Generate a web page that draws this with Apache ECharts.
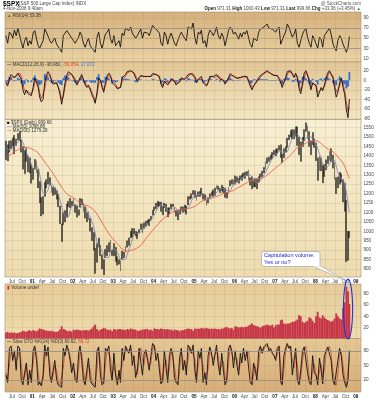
<!DOCTYPE html>
<html><head><meta charset="utf-8">
<script src="https://cdn.jsdelivr.net/npm/echarts@6/dist/echarts.min.js"></script>
<style>html,body{margin:0;padding:0;background:#fff;}#c{width:377px;height:400px;}</style>
</head><body><div id="c"></div>
<script>
// ---- semi-monthly samples: May-2000 (1st half) ... Oct-2008 (2nd half), then 4-Nov-2008 ----
const priceHigh = [
1480,1460,1480,1482,1495,1510,1490,1520,1530,1485,1450,1430,1440,1400,1390,1350,
1335,1383,1375,1330,1265,1180,1185,1260,1275,1315,1285,1245,1235,1230,1215,1195,1135,1040,1100,1110,1145,1160,1175,1160,
1175,1140,1135,1115,1175,1172,1150,1130,1100,1105,1070,1020,995,910,935,965,925,875,850,905,925,940,955,900,
935,915,865,850,845,895,890,920,950,965,1000,1015,1015,1000,995,1010,1040,1040,1045,1055,1060,1065,1080,1112,
1130,1150,1160,1155,1155,1130,1150,1145,1125,1125,1145,1145,1130,1110,1110,1110,1130,1130,1140,1135,1185,1185,1200,1217,
1215,1190,1210,1212,1230,1200,1195,1165,1180,1200,1210,1220,1230,1245,1240,1230,1245,1235,1230,1205,1235,1270,1275,1275,
1295,1290,1280,1295,1300,1310,1315,1318,1326,1285,1290,1275,1280,1280,1290,1305,1320,1340,1370,1390,1395,1405,1420,1430,
1435,1440,1455,1460,1410,1440,1450,1495,1512,1535,1540,1540,1555,1555,1500,1475,1500,1540,1576,1560,1530,1480,1525,1490,
1470,1390,1400,1390,1350,1355,1380,1400,1425,1440,1405,1365,1285,1290,1313,1305,1275,1255,1165,1000,1000];
const priceLow = [
1380,1373,1420,1440,1450,1410,1455,1485,1480,1420,1330,1305,1370,1315,1310,1255,
1275,1330,1310,1230,1150,1081,1091,1185,1230,1250,1245,1205,1190,1195,1170,1130,1040,945,1035,1050,1075,1130,1125,1135,
1135,1100,1075,1085,1130,1140,1105,1070,1050,1060,1000,950,900,776,835,915,870,800,769,860,870,890,890,870,
870,840,820,825,789,850,860,890,915,925,965,970,985,975,960,990,1010,990,1015,1025,1040,1030,1060,1085,
1110,1120,1130,1135,1105,1087,1125,1105,1076,1090,1120,1130,1100,1080,1060,1090,1110,1100,1105,1090,1140,1170,1175,1195,
1180,1163,1185,1185,1195,1170,1165,1137,1150,1180,1190,1185,1190,1225,1220,1205,1215,1205,1180,1176,1200,1240,1250,1245,
1250,1260,1255,1275,1270,1290,1280,1295,1270,1245,1224,1235,1235,1225,1260,1285,1290,1310,1330,1360,1370,1380,1390,1405,
1400,1415,1430,1390,1364,1390,1420,1445,1485,1500,1490,1490,1505,1455,1406,1370,1450,1480,1530,1490,1450,1406,1460,1445,
1375,1270,1320,1320,1257,1290,1325,1360,1375,1370,1335,1275,1200,1230,1250,1260,1155,1106,839,845,966];
const rsi = [
55,40,62,58,50,66,55,70,68,42,30,45,52,35,45,38,
60,65,48,35,30,28,45,68,62,65,45,40,42,50,38,35,28,22,55,58,65,62,55,50,
45,40,38,52,62,55,40,32,42,50,35,30,28,22,52,62,40,30,28,58,62,68,48,40,
55,35,40,45,32,60,55,70,68,65,72,60,62,50,55,62,68,50,62,65,60,55,65,75,
78,68,65,60,40,35,62,55,38,52,60,58,40,35,32,55,62,55,52,45,72,70,68,80,
52,38,62,58,66,40,45,32,55,66,62,55,62,72,55,48,60,52,35,38,65,72,68,58,
62,55,48,60,52,62,58,65,66,38,32,50,48,45,62,68,65,72,75,78,70,72,68,66,
62,68,72,38,35,55,62,78,72,74,52,58,68,40,32,45,58,65,70,52,40,32,55,48,
45,30,52,48,32,55,60,65,70,58,40,30,25,45,55,50,38,40,22,32,53.38];
const macd = [
-5,-12,5,12,10,5,3,15,18,2,-20,-30,-20,-28,-25,-32,
-15,5,5,-15,-35,-45,-40,-5,10,18,12,-2,-8,-8,-5,-15,-30,-50,-30,-5,10,18,16,12,
8,-2,-10,-8,5,12,2,-10,-15,-10,-20,-30,-38,-48,-25,5,0,-15,-25,-5,10,15,10,-5,
-3,-12,-18,-15,-15,5,5,12,18,20,20,18,15,5,-2,5,10,8,8,10,8,6,8,14,
15,12,10,8,-8,-15,-2,2,-10,-8,2,6,-2,-10,-12,-2,5,4,2,-2,12,15,14,15,
5,-5,2,5,8,-5,-8,-12,-5,8,10,8,5,12,10,2,4,0,-8,-10,5,14,14,8,
8,4,2,6,6,8,6,8,6,-12,-20,-12,-6,-8,5,10,12,15,18,20,16,14,12,10,
8,10,12,-5,-15,-5,5,18,22,20,12,6,15,5,-18,-28,-5,15,20,12,-5,-20,-5,-6,
-12,-35,-25,-15,-22,-10,5,15,20,18,5,-15,-35,-25,-5,5,-15,-30,-62,-78,-38.982];
const macdSignal = [
-3,-8,-2,6,9,7,4,10,15,8,-8,-22,-22,-24,-25,-28,
-20,-5,2,-8,-25,-38,-40,-18,2,12,14,4,-4,-7,-6,-10,-22,-40,-35,-15,2,12,15,13,
10,3,-6,-8,0,8,6,-4,-12,-11,-16,-25,-33,-43,-32,-8,0,-10,-20,-12,3,11,11,2,
0,-8,-15,-15,-15,-3,3,9,15,18,19,18,16,9,2,3,8,8,8,9,8,7,8,11,
13,12,11,9,-2,-11,-6,-1,-6,-8,-2,3,1,-6,-10,-5,2,3,2,0,7,12,13,14,
9,0,1,3,6,-1,-5,-10,-7,3,8,8,6,9,10,5,4,1,-5,-8,0,9,12,10,
8,5,3,5,6,7,6,7,7,-4,-15,-14,-8,-7,1,7,10,13,16,18,17,15,13,11,
9,9,11,2,-9,-8,1,12,18,20,15,9,12,8,-8,-22,-12,6,16,14,3,-13,-8,-6,
-9,-26,-27,-19,-20,-14,-2,9,17,18,10,-6,-25,-27,-13,1,-8,-22,-45,-65,-56.054];
const macdHist = [
-2,-4,7,6,1,-2,-1,5,3,-6,-12,-8,2,-4,0,-4,
5,10,3,-7,-10,-7,0,13,8,6,-2,-6,-4,-1,1,-5,-8,-10,5,10,8,6,1,-1,
-2,-5,-4,0,5,4,-4,-6,-3,1,-4,-5,-5,-5,7,13,0,-5,-5,7,7,4,-1,-7,
-3,-4,-3,0,0,8,2,3,3,2,1,0,-1,-4,-4,2,2,0,0,1,0,-1,0,3,
2,0,-1,-1,-6,-4,4,3,-4,0,4,3,-3,-4,-2,3,3,1,0,-2,5,3,1,1,
-4,-5,1,2,2,-4,-3,-2,2,5,2,0,-1,3,0,-3,0,-1,-3,-2,5,5,2,-2,
0,-1,-1,1,0,1,0,1,-1,-8,-5,2,2,-1,4,3,2,2,2,2,-1,-1,-1,-1,
-1,1,1,-7,-6,3,4,6,4,0,-3,-3,3,-3,-10,-6,7,9,4,-2,-8,-7,3,0,
-3,-9,2,4,-2,4,7,6,3,0,-5,-9,-10,2,8,4,-7,-8,-17,-13,17.072];
const volume = [
11,12,10,11,10,11,9,10,11,12,14,13,12,14,15,13,
15,14,13,15,18,17,16,15,14,14,13,14,13,12,12,13,16,22,17,16,14,13,14,12,
16,15,16,15,15,14,15,15,15,14,16,18,22,25,17,14,16,17,19,18,16,15,16,13,
17,16,16,17,17,16,16,15,17,16,18,17,16,16,14,14,15,16,16,17,17,15,16,14,
18,17,17,16,18,17,17,16,17,16,16,14,16,15,15,13,15,15,16,17,18,17,17,14,
18,17,18,17,19,18,18,19,18,17,18,17,18,17,17,16,18,18,20,21,19,18,19,16,
22,21,20,20,21,20,21,21,23,25,27,24,23,22,21,19,22,23,24,25,24,23,25,20,
24,25,25,33,34,27,26,27,27,28,30,30,32,34,42,40,30,28,30,32,38,36,32,28,
40,48,38,36,42,38,35,33,32,30,32,36,45,40,36,34,55,65,93,85,62];
const stoK = [
30,15,85,90,60,80,40,90,85,20,10,35,55,10,40,15,
80,90,60,10,15,8,30,92,70,88,30,15,40,60,20,10,8,5,85,70,92,80,60,35,
55,20,15,75,90,60,20,10,40,65,20,12,15,5,80,88,30,10,15,85,80,90,40,20,
75,30,10,40,15,85,60,90,80,75,92,50,70,25,40,85,88,30,75,82,60,40,70,95,
90,60,75,40,12,20,80,45,15,70,85,72,25,15,10,65,85,40,60,30,92,85,75,92,
40,15,80,65,85,15,35,10,70,88,75,50,70,92,50,30,75,40,10,20,85,92,80,45,
80,50,30,75,55,85,60,80,82,15,10,55,40,20,80,90,75,88,92,95,80,85,75,70,
60,85,90,15,10,70,85,95,85,90,30,60,85,20,10,40,80,88,90,35,15,10,70,35,
30,10,65,40,12,70,80,88,90,60,20,10,8,60,85,70,30,15,5,20,80.62];
const stoD = [
35,22,50,80,75,70,60,65,85,50,20,25,45,30,25,25,
50,85,75,35,12,12,20,60,80,80,55,22,30,50,40,15,10,6,45,78,80,85,70,48,
45,35,18,45,80,75,40,15,25,52,40,15,14,10,42,85,60,20,12,50,82,85,65,30,
48,52,20,25,28,50,72,75,85,78,85,70,60,45,32,62,86,60,52,78,70,50,55,82,
92,75,68,58,25,15,50,62,30,42,78,78,48,20,12,38,75,62,50,45,60,88,80,84,
65,28,48,72,75,50,25,22,40,80,82,62,60,82,70,40,52,58,25,15,52,88,86,62,
62,65,40,52,65,70,72,70,80,50,12,32,48,30,50,85,82,82,90,93,88,82,80,72,
65,72,88,52,12,40,78,90,90,88,60,45,72,52,15,25,60,84,89,62,25,12,40,52,
32,20,38,52,26,40,75,84,89,75,40,15,9,34,72,78,50,22,10,12,66.72];
// ---- monthly (mid-month) moving averages: May-2000 ... Oct-2008, then 4-Nov-2008 ----
const ma50 = [
1440,1430,1450,1465,1490,1460,1410,1370,
1335,1340,1280,1200,1210,1255,1240,1210,1150,1090,1075,1120,
1145,1135,1125,1140,1100,1065,1010,930,905,870,860,900,
905,880,850,850,890,940,985,990,1000,1025,1040,1065,
1095,1130,1140,1130,1110,1115,1125,1100,1100,1115,1130,1170,
1195,1195,1200,1190,1170,1180,1200,1220,1228,1220,1215,1240,
1260,1270,1280,1295,1300,1280,1260,1265,1290,1320,1360,1390,
1410,1425,1420,1420,1460,1500,1515,1500,1480,1500,1505,1480,
1450,1400,1350,1340,1365,1380,1330,1280,1265,1180,1098.88];
const ma200 = [
1395,1405,1420,1430,1440,1445,1445,1440,
1432,1420,1400,1375,1350,1325,1300,1270,1240,1215,1195,1185,
1175,1160,1150,1140,1135,1125,1110,1085,1055,1025,995,970,
950,930,910,898,895,900,905,915,930,955,978,1000,
1020,1040,1060,1075,1090,1100,1110,1115,1118,1120,1122,1127,
1135,1150,1160,1168,1173,1178,1183,1190,1198,1205,1210,1215,
1225,1235,1245,1255,1265,1270,1275,1280,1285,1295,1310,1325,
1340,1355,1370,1385,1400,1420,1440,1450,1460,1470,1478,1482,
1480,1470,1455,1440,1430,1420,1400,1380,1355,1310,1279.28];
// ---- axis ticks ----
const rsiTicks = [10,30,50,70,90];
const macdTicks = [-80,-60,-40,-20,0,20];
const priceTicks = [800,850,900,950,1000,1050,1100,1150,1200,1250,1300,1350,1400,1450,1500,1550];
const volTicks = [20,40,60,80];
const stoTicks = [20,50,80];
const monthNames = {3:'Apr',6:'Jul',9:'Oct'};

const lastDate = new Date(2008,10,4).getTime();
const N = priceHigh.length;
function halfDate(k){ return k===N-1 ? lastDate : new Date(2000, 4+Math.floor(k/2), k%2 ? 23 : 8).getTime(); }
function monDate(k, n){ return k===n-1 ? lastDate : new Date(2000, 4+k, 15).getTime(); }
const pair = arr => arr.map((v,k)=>[halfDate(k), v]);
const pairM = arr => arr.map((v,k)=>[monDate(k, arr.length), v]);

const xMin = new Date(2000,3,29).getTime(), xMax = new Date(2009,1,17).getTime();
const quarterTicks = [];
for (let i=0;i<=34;i++) quarterTicks.push(new Date(2000,6+3*i,1).getTime());
function xLabel(v){ const d=new Date(v); const m=d.getMonth(); if(m===0) return '{y|'+String(d.getFullYear()%100).padStart(2,'0')+'}'; return monthNames[m] || ''; }

const FF = 'Liberation Sans, Arial, sans-serif';
const gridCol = 'rgba(140,110,70,0.22)';
const L = 5, W = 356;
const panels = [
  {top:12, height:50, c:['#d5b17e','#ead3a4']},
  {top:62, height:57.5, c:['#e2c796','#f4e6c3']},
  {top:119.5, height:157.5, c:['#f7efd3','#eedcaf']},
  {top:284, height:54.5, c:['#e6cb99','#efdcad']},
  {top:338.5, height:53.5, c:['#e5c895','#d7ad77']}
];
const grids = panels.map(p=>({left:L, top:p.top, width:W, height:p.height, show:true,
  borderColor:'#a48d6b', borderWidth:0.6,
  backgroundColor:{type:'linear',x:0,y:0,x2:0,y2:1,colorStops:[{offset:0,color:p.c[0]},{offset:1,color:p.c[1]}]}}));

function makeX(i, show){
  return {type:'value', gridIndex:i, min:xMin, max:xMax,
    axisLine:{show:false}, axisTick:{show:false, customValues:quarterTicks},
    axisLabel:{show:show, customValues:quarterTicks, formatter:xLabel, fontSize:4.6, fontFamily:FF, color:'#444', margin:2.2,
      rich:{y:{fontWeight:'bold', fontSize:4.6, fontFamily:FF, color:'#111'}}},
    splitLine:{show:true, lineStyle:{color:gridCol, width:0.6}}};
}
function makeY(i, min, max, vals){
  return {type:'value', gridIndex:i, position:'right', min:min, max:max,
    axisLine:{show:false}, axisTick:{show:false, customValues:vals},
    axisLabel:{customValues:vals, fontSize:4.6, fontFamily:FF, color:'#444', margin:2.5, formatter:v=>String(v)},
    splitLine:{show:true, lineStyle:{color:gridCol, width:0.6}}};
}
const hl = (c,w,t)=>({silent:true, symbol:'none', label:{show:false}, lineStyle:{color:c, width:w, type:t||'solid'}});

// ellipse annotation outline
const ell = [];
for (let a=0;a<=64;a++){ const t=a/64*2*Math.PI; ell.push([348+4.6*Math.cos(t), 309+30*Math.sin(t)]); }

const txt = (x,y,text,size,fill,extra)=>({type:'text', x:x, y:y, z:100,
  style:Object.assign({text:text, fontSize:size, fontFamily:FF, fill:fill, verticalAlign:'middle'}, extra||{})});

const option = {
  animation:false,
  backgroundColor:'#ffffff',
  grid: grids,
  xAxis: [makeX(0,false), makeX(1,false), makeX(2,true), makeX(3,false), makeX(4,true)],
  yAxis: [makeY(0,2.7,101.9,rsiTicks), makeY(1,-81.7,38.1,macdTicks), makeY(2,757.5,1593.5,priceTicks),
          makeY(3,0,98,volTicks), makeY(4,-4.7,105.3,stoTicks)],
  series: [
    {type:'line', xAxisIndex:0, yAxisIndex:0, data:pair(rsi), symbol:'none', lineStyle:{color:'#111', width:0.9},
      markLine:Object.assign(hl('#8f8f8f',0.8), {data:[{yAxis:70},{yAxis:30}]})},
    {type:'line', xAxisIndex:0, yAxisIndex:0, data:[], markLine:Object.assign(hl('#a09070',0.6,'dashed'), {data:[{yAxis:50}]})},
    {type:'bar', xAxisIndex:1, yAxisIndex:1, data:pair(macdHist), barWidth:1.8, itemStyle:{color:'#2f6fd0'}},
    {type:'line', xAxisIndex:1, yAxisIndex:1, data:pair(macdSignal), symbol:'none', lineStyle:{color:'#d0281e', width:0.8}},
    {type:'line', xAxisIndex:1, yAxisIndex:1, data:pair(macd), symbol:'none', lineStyle:{color:'#111', width:0.9}},
    {type:'line', xAxisIndex:2, yAxisIndex:2, data:pairM(ma200), symbol:'none', smooth:0.4, lineStyle:{color:'#e8604a', width:0.9}},
    {type:'line', xAxisIndex:2, yAxisIndex:2, data:pairM(ma50), symbol:'none', smooth:0.4, lineStyle:{color:'#7e86b4', width:0.9}},
    {type:'candlestick', xAxisIndex:2, yAxisIndex:2, barWidth:1.4,
      data: priceHigh.map((h,k)=>[halfDate(k), priceLow[k], h, priceLow[k], h]),
      encode:{x:0, y:[1,2,3,4]},
      itemStyle:{color:'#141414', color0:'#141414', borderColor:'#141414', borderColor0:'#141414', borderWidth:0.3}},
    {type:'bar', xAxisIndex:3, yAxisIndex:3, data:pair(volume), barWidth:1.8, itemStyle:{color:'#c63447'}},
    {type:'line', xAxisIndex:4, yAxisIndex:4, data:pair(stoD), symbol:'none', lineStyle:{color:'#c8281e', width:0.6}},
    {type:'line', xAxisIndex:4, yAxisIndex:4, data:pair(stoK), symbol:'none', lineStyle:{color:'#111', width:0.9},
      markLine:Object.assign(hl('#8f8f8f',0.8), {data:[{yAxis:80},{yAxis:20}]})}
  ],
  graphic: [
    txt(3,4,'$SPX',6.5,'#000',{fontWeight:'bold'}),
    txt(19,4,'(S&P 500 Large Cap Index) INDX',4.5,'#444'),
    txt(3,9,'4-Nov-2008 9:40am',4.5,'#444'),
    txt(361,3.5,'@ StockCharts.com',4.5,'#555',{align:'right'}),
    txt(361,9,'{b|Open} 971.31 {b|High} 1000.43 {b|Low} 971.31 {b|Last} 999.66 {b|Chg} +33.36 (+3.45%) {g|▲}',4.5,'#444',
      {align:'right', rich:{b:{fontWeight:'bold', fontSize:4.5, fontFamily:FF, fill:'#222'}, g:{fill:'#1a9a2a', fontSize:4.5}}}),
    txt(7,15.5,'{g|▲} RSI(14) 53.38',4.5,'#333',{rich:{g:{fill:'#1a8a2a', fontSize:4.5}}}),
    txt(7,65,'{k|—} MACD(12,26,9) -38.982, {r|-56.054}, {b|17.072}',4.5,'#333',
      {rich:{k:{fill:'#111',fontSize:4.5}, r:{fill:'#e0402a',fontSize:4.5}, b:{fill:'#2f6fd0',fontSize:4.5}}}),
    txt(7,122.5,'{k|■} $SPX (Daily) 999.66',4.5,'#333',{rich:{k:{fill:'#111',fontSize:4.5}}}),
    txt(7,126.5,'{b|—} MA(50) 1098.88',4.5,'#333',{rich:{b:{fill:'#5a64a8',fontSize:4.5}}}),
    txt(7,130.5,'{r|—} MA(200) 1279.28',4.5,'#333',{rich:{r:{fill:'#e0402a',fontSize:4.5}}}),
    txt(7,287.5,'{r|▮} Volume undef',4.5,'#333',{rich:{r:{fill:'#c63447',fontSize:4.5}}}),
    txt(7,341.5,'{k|—} Slow STO %K(14) %D(3) 80.62, {r|66.72}',4.5,'#333',
      {rich:{k:{fill:'#111',fontSize:4.5}, r:{fill:'#e0402a',fontSize:4.5}}}),
    {type:'polygon', z:100, shape:{points:[[313,266.2],[321,266.2],[346.5,281]]}, style:{fill:'#fff', stroke:'#999', lineWidth:0.6}},
    {type:'rect', z:101, shape:{x:261.5, y:251.5, width:58.5, height:15, r:2}, style:{fill:'#fff', stroke:'#999', lineWidth:0.6}},
    {type:'rect', z:102, shape:{x:313.5, y:265.5, width:7, height:1.2}, style:{fill:'#fff'}},
    Object.assign(txt(264,255.5,'Capitulation volume.',5.6,'#2424c8'),{z:103}),
    Object.assign(txt(264,262.5,'Yes or no?',5.6,'#2424c8'),{z:103}),
    {type:'polygon', z:104, shape:{points:ell}, style:{fill:'none', stroke:'#2233dd', lineWidth:1.1}}
  ]
};
const chart = echarts.init(document.getElementById('c'), null, {renderer:'canvas'});
chart.setOption(option);
</script></body></html>
